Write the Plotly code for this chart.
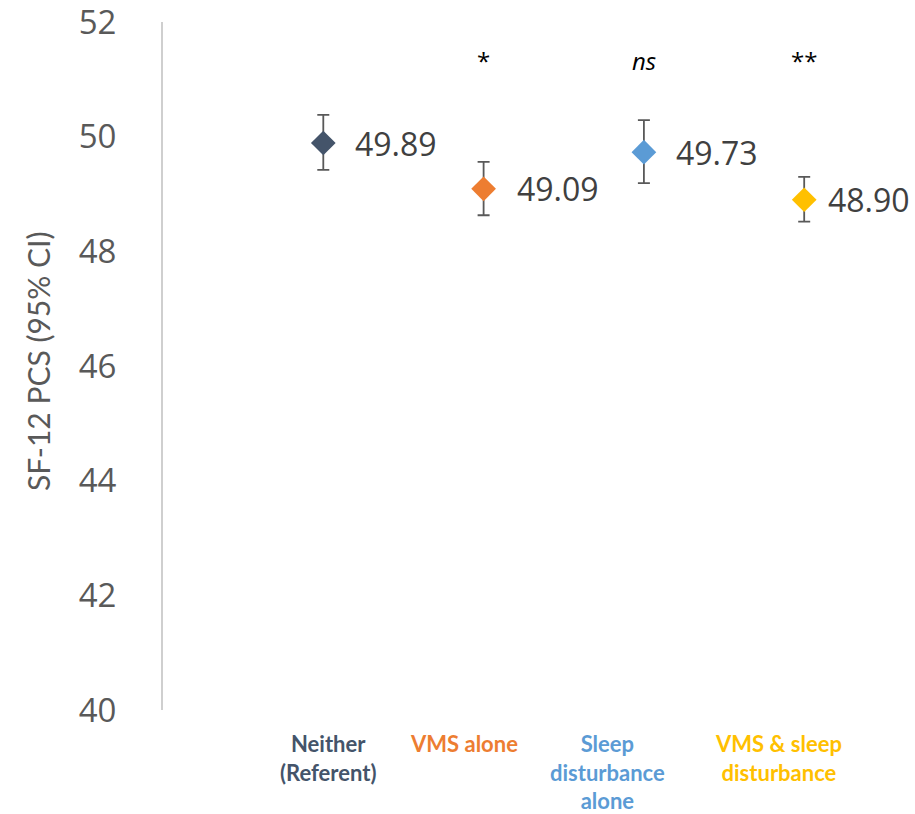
import plotly.graph_objects as go

# Groups, estimated means and 95% confidence half-widths
groups = ["Neither (Referent)", "VMS alone", "Sleep disturbance alone", "VMS & sleep disturbance"]
group_labels = ["Neither<br>(Referent)", "VMS alone", "Sleep<br>disturbance<br>alone", "VMS & sleep<br>disturbance"]
means = [49.89, 49.09, 49.73, 48.90]
ci_upper = [50.38, 49.56, 50.29, 49.30]
ci_lower = [49.42, 48.63, 49.19, 48.52]
significance = ["", "*", "<i>ns</i>", "**"]
colors = ["#44546A", "#ED7D31", "#5B9BD5", "#FFC000"]
y_ticks = [40, 42, 44, 46, 48, 50, 52]

positions = list(range(1, len(groups) + 1))
err_plus = [u - m for u, m in zip(ci_upper, means)]
err_minus = [m - l for m, l in zip(means, ci_lower)]

W, H = 915, 814
L, R, T, B = 163, 0, 22, 104
pw, ph = W - L - R, H - T - B

fig = go.Figure()
for i, name in enumerate(groups):
    fig.add_trace(go.Scatter(
        x=[positions[i]], y=[means[i]], mode="markers", name=name,
        marker=dict(symbol="diamond", size=19, color=colors[i], line=dict(width=0)),
        error_y=dict(type="data", symmetric=False, array=[err_plus[i]], arrayminus=[err_minus[i]],
                     color="#595959", thickness=1.8, width=6),
        showlegend=False,
    ))

annotations = []
# value labels beside each marker
value_shift = [30, 31, 30, 22]
for i, m in enumerate(means):
    annotations.append(dict(
        x=positions[i], y=m, xref="x", yref="y", text=f"{m:.2f}", showarrow=False,
        xanchor="left", yanchor="middle", xshift=value_shift[i],
        font=dict(family="Open Sans", size=32, color="#404040"),
    ))
# significance markers above each group
for i, s in enumerate(significance):
    if s:
        annotations.append(dict(
            x=positions[i], y=51.33, xref="x", yref="y", text=s, showarrow=False,
            xanchor="center", yanchor="middle",
            font=dict(family="Open Sans", size=24, color="#000000"),
        ))
# coloured group names under the plot
label_shift = [5, -20, -36, -26]
for i, lab in enumerate(group_labels):
    annotations.append(dict(
        x=positions[i], y=-0.026, xref="x", yref="paper", text=f"<b>{lab}</b>", showarrow=False,
        xanchor="center", yanchor="top", xshift=label_shift[i], align="center",
        font=dict(family="Lato", size=22, color=colors[i]),
    ))
# y-axis title (position given in pixels, converted to paper units)
title_px = (38, 362)
annotations.append(dict(
    x=(title_px[0] - L) / pw, y=(H - B - title_px[1]) / ph, xref="paper", yref="paper",
    text="SF-12 PCS (95% CI)", showarrow=False,
    textangle=-90, xanchor="center", yanchor="middle",
    font=dict(family="Lato", size=30, color="#595959"),
))

fig.update_layout(
    width=W, height=H,
    margin=dict(l=L, r=R, t=T, b=B, pad=0),
    paper_bgcolor="white", plot_bgcolor="white",
    xaxis=dict(range=[0, pw / 160.3], showticklabels=False, showgrid=False, zeroline=False,
               showline=False, ticks=""),
    yaxis=dict(range=[39.999, 52.001], tickvals=y_ticks, showgrid=False, zeroline=False,
               showline=True, linecolor="#CFCFCF", linewidth=2, ticks="",
               ticklabelstandoff=38, ticklabeloverflow="allow",
               tickfont=dict(family="Open Sans", size=33, color="#595959")),
    annotations=annotations,
)

fig.write_html("out.html")
